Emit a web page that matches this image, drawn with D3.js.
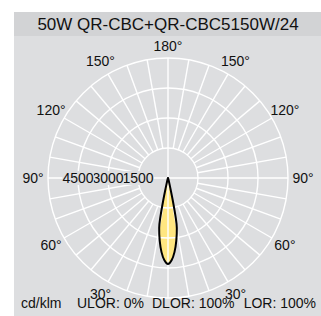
<!DOCTYPE html>
<html>
<head>
<meta charset="utf-8">
<script src="https://cdn.jsdelivr.net/npm/d3@7"></script>
<style>
    body { margin: 0; background: #fff; }
    text { font-family: "Liberation Sans", Arial, sans-serif; fill: #111; }
</style>
</head>
<body>
<div id="polar-container"></div>
<script>
// Luminous intensity (cd/klm) against gamma angle, symmetric beam
var gammas = [0, 2.5, 5, 7.5, 10, 11, 12, 13, 15, 17.5, 20, 25, 30, 45, 60, 90, 120, 150, 180];
var intensities = [4300, 4120, 3720, 3170, 2540, 2050, 1150, 520, 180, 70, 30, 10, 0, 0, 0, 0, 0, 0, 0];
var rings = [1500, 3000, 4500, 6000];
var ringLabels = ["1500", "3000", "4500"];
var angleLabels = [30, 60, 90, 120, 150];
var title = "50W QR-CBC+QR-CBC5150W/24";
var footer = ["cd/klm", "ULOR: 0%", "DLOR: 100%", "LOR: 100%"];

function polarChart(){
    var width = 321;
    var height = 316;

    function chart(selection){
	selection.each(function(){
	    var svg = d3.select(this).append("svg").attr("width", width).attr("height", height);
	    var cx = 168, cy = 178;

	    // backgrounds
	    svg.append("rect").attr("x", 14).attr("y", 12).attr("width", width - 14).attr("height", 24).attr("fill", "#d2d3d5");
	    svg.append("rect").attr("x", 14).attr("y", 36).attr("width", width - 14).attr("height", height - 36).attr("fill", "#dddee0");

	    svg.append("text").attr("x", cx).attr("y", 30).attr("text-anchor", "middle")
		.style("font-size", "17px").text(title);

	    var r = d3.scaleLinear().domain([0, 6000]).range([0, 120]);
	    var g = svg.append("g").attr("transform", "translate(" + cx + "," + cy + ")");

	    // beam outline: right side then mirrored left side
	    var pts = [];
	    gammas.forEach(function(a, i){ pts.push([Math.PI - a * Math.PI / 180, r(intensities[i])]); });
	    for(var i = gammas.length - 2; i > 0; i--){
		pts.push([Math.PI + gammas[i] * Math.PI / 180, r(intensities[i])]);
	    }
	    var line = d3.lineRadial().curve(d3.curveCardinalClosed.tension(0.3));
	    g.append("path").attr("d", line(pts)).attr("fill", "#ffe680").attr("stroke", "none");

	    // grid
	    var grid = g.append("g").attr("stroke", "#fff").attr("stroke-width", 1.4).attr("fill", "none");
	    grid.selectAll("circle").data(rings).enter().append("circle").attr("r", function(d){ return r(d); });
	    var spokes = d3.range(0, 360, 10);
	    grid.selectAll("line").data(spokes).enter().append("line")
		.attr("x1", function(d){ return (d % 90 === 0 ? 0 : r(rings[0])) * Math.sin(d * Math.PI / 180); })
		.attr("y1", function(d){ return (d % 90 === 0 ? 0 : r(rings[0])) * Math.cos(d * Math.PI / 180); })
		.attr("x2", function(d){ return r(6000) * Math.sin(d * Math.PI / 180); })
		.attr("y2", function(d){ return r(6000) * Math.cos(d * Math.PI / 180); });

	    g.append("path").attr("d", line(pts)).attr("fill", "none").attr("stroke", "#000").attr("stroke-width", 2);

	    // ring value labels on the left axis, outermost drawn last
	    ringLabels.forEach(function(t, i){
		var lab = g.append("g");
		var tx = lab.append("text").attr("x", -r(rings[i])).attr("y", 5).attr("text-anchor", "middle")
		    .style("font-size", "14px").text(t);
		var bb = tx.node().getBBox();
		lab.insert("rect", "text").attr("x", bb.x).attr("y", bb.y + 1).attr("width", bb.width).attr("height", bb.height - 2)
		    .attr("fill", "#dddee0");
	    });

	    // angle labels
	    var lr = 135;
	    angleLabels.forEach(function(a){
		[-1, 1].forEach(function(s){
		    g.append("text").attr("x", s * lr * Math.sin(a * Math.PI / 180))
			.attr("y", lr * Math.cos(a * Math.PI / 180) + 4.5)
			.attr("text-anchor", "middle").style("font-size", "14px").text(a + "°");
		});
	    });
	    g.append("text").attr("x", 0).attr("y", -132 + 4.5).attr("text-anchor", "middle").style("font-size", "14px").text("180°");

	    // footer
	    var fx = [21, 77, 152, 316];
	    footer.forEach(function(t, i){
		svg.append("text").attr("x", fx[i]).attr("y", 307.5).attr("text-anchor", i === 3 ? "end" : "start")
		    .style("font-size", "14px").text(t);
	    });
	});
    }

    chart.width = function(v){
	if(!arguments.length) return width;
	width = v;
	return chart;
    }

    chart.height = function(v){
	if(!arguments.length) return height;
	height = v;
	return chart;
    }

    return chart;
}

d3.select("#polar-container").call(polarChart());
</script>
</body>
</html>
